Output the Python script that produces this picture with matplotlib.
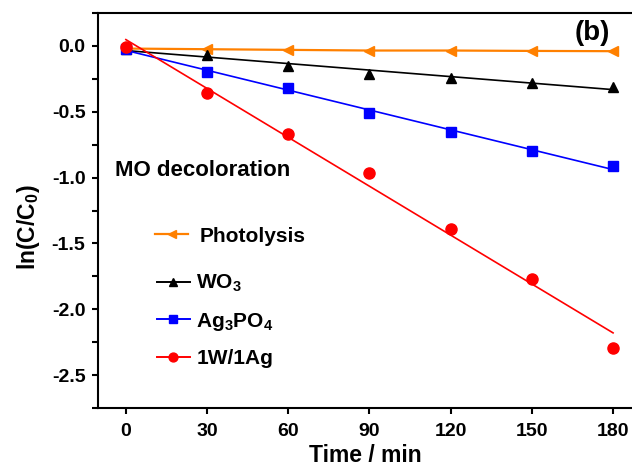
import numpy as np
import matplotlib
matplotlib.use("Agg")
import matplotlib.pyplot as plt
from matplotlib.lines import Line2D

plt.rcParams['font.family'] = ['Liberation Sans', 'DejaVu Sans']
plt.rcParams['font.weight'] = 'bold'
plt.rcParams['mathtext.default'] = 'regular'

time = [0, 30, 60, 90, 120, 150, 180]
photolysis = [-0.02, -0.025, -0.03, -0.035, -0.035, -0.038, -0.04]
wo3 = [-0.02, -0.07, -0.15, -0.21, -0.245, -0.28, -0.31]
ag3po4 = [-0.02, -0.195, -0.316, -0.51, -0.654, -0.797, -0.914]
w1ag1 = [-0.01, -0.36, -0.67, -0.965, -1.39, -1.77, -2.295]

xticks = [0, 30, 60, 90, 120, 150, 180]
yticks = [0.0, -0.5, -1.0, -1.5, -2.0, -2.5]

c_orange = '#FF8000'
c_black = '#000000'
c_blue = '#0000FF'
c_red = '#FF0000'

fig = plt.figure(figsize=(6.32, 4.70), dpi=100)
ax = fig.add_axes([98/632, 1-408/470, 1-98/632, (408-13)/470])

t = np.array(time, dtype=float)

# Photolysis: connected points
ax.plot(t, photolysis, color=c_orange, lw=1.6, marker='<', ms=7.5, mec=c_orange, mfc=c_orange)

def fitplot(y, color, marker, ms):
    k, b = np.polyfit(t, np.array(y), 1)
    xs = np.array([t[0], t[-1]])
    ax.plot(xs, k*xs + b, color=color, lw=1.2)
    ax.plot(t, y, ls='none', marker=marker, ms=ms, color=color)
    return Line2D([], [], color=color, lw=1.4, marker=marker, ms=ms*0.8)

h_w = fitplot(wo3, c_black, '^', 7.5)
h_a = fitplot(ag3po4, c_blue, 's', 6.5)
h_r = fitplot(w1ag1, c_red, 'o', 8)

ax.set_xlim(-10.3, 187)
ax.set_ylim(-2.75, 0.25)
ax.set_xticks(xticks)
ax.set_xticklabels([str(v) for v in xticks])
ax.set_yticks(yticks)
ax.set_yticklabels(['%.1f' % v for v in yticks])
ax.set_yticks(np.arange(-2.75, 0.26, 0.25), minor=True)

for s in ['left', 'top', 'bottom']:
    ax.spines[s].set_linewidth(1.5)
ax.spines['right'].set_visible(False)

ax.tick_params(axis='both', which='major', direction='out', length=4, width=1.5,
               labelsize=14)
ax.tick_params(axis='x', which='major', pad=7)
ax.tick_params(axis='y', which='major', pad=5)
ax.tick_params(axis='y', which='minor', direction='out', length=4, width=1.5)
ax.tick_params(axis='x', which='minor', bottom=False)

ax.set_xlabel('Time / min', fontsize=16.5, fontweight='bold', labelpad=3)
ax.set_ylabel('ln(C/C$_0$)', fontsize=16.5, fontweight='bold', labelpad=6)
ax.yaxis.set_label_coords(-0.104, 0.457)

ax.text(0.032, 0.60, 'MO decoloration', transform=ax.transAxes, fontsize=16,
        fontweight='bold', ha='left', va='center')
ax.text(0.925, 0.95, '(b)', transform=ax.transAxes, fontsize=20,
        fontweight='bold', ha='center', va='center')

h_p = Line2D([], [], color=c_orange, lw=1.6, marker='<', ms=6)
leg1 = ax.legend([h_p], ['Photolysis'], loc='center left', bbox_to_anchor=(0.107, 0.435),
                 frameon=False, borderpad=0, borderaxespad=0, handlelength=1.6,
                 handletextpad=0.55, prop={'size': 15, 'weight': 'bold'})
ax.add_artist(leg1)
ax.legend([h_w, h_a, h_r], ['WO$_3$', 'Ag$_3$PO$_4$', '1W/1Ag'], loc='center left',
          bbox_to_anchor=(0.11, 0.2215), frameon=False, borderpad=0, borderaxespad=0,
          handlelength=1.6, handletextpad=0.3, labelspacing=0.78,
          prop={'size': 15, 'weight': 'bold'})

fig.savefig('out.png', dpi=100)
